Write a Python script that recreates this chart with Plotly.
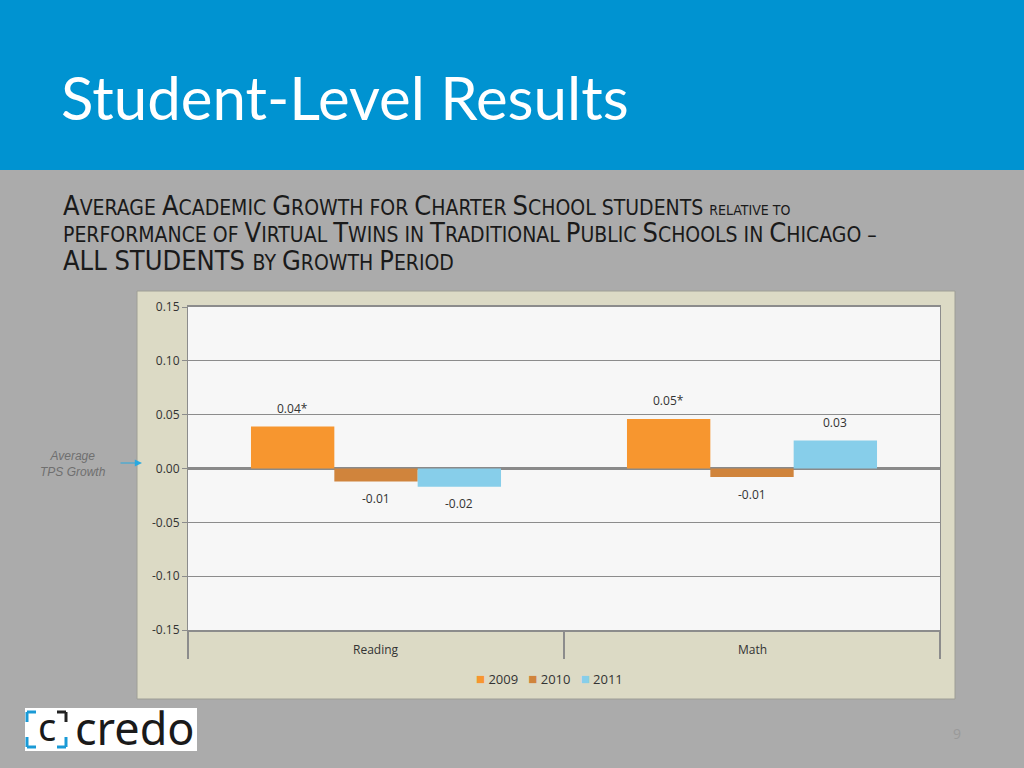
import plotly.graph_objects as go

categories = ["Reading", "Math"]
years = ["2009", "2010", "2011"]
values_2009 = [0.039, 0.046]
values_2010 = [-0.012, -0.008]
values_2011 = [-0.017, 0.026]
labels_2009 = ["0.04*", "0.05*"]
labels_2010 = ["-0.01", "-0.01"]
labels_2011 = ["-0.02", "0.03"]
colors = ["#f7962f", "#d0843c", "#87ceea"]
y_tickvals = [-0.15, -0.10, -0.05, 0.00, 0.05, 0.10, 0.15]
y_ticktext = ["-0.15", "-0.10", "-0.05", "0.00", "0.05", "0.10", "0.15"]

W, H = 1024, 768
def px(x): return x / W
def py(y): return (H - y) / H

PLOT_X0, PLOT_X1 = 188, 940
BARGAP = 0.335

fig = go.Figure()
series_vals = [values_2009, values_2010, values_2011]
series_labs = [labels_2009, labels_2010, labels_2011]
for name, vals, col in zip(years, series_vals, colors):
    fig.add_trace(go.Bar(x=categories, y=vals, name=name, marker_color=col,
                         marker_line_width=0, showlegend=False, hoverinfo="x+y+name"))

shapes = [
    dict(type="rect", xref="paper", yref="paper", x0=0, x1=1, y0=py(170), y1=1,
         fillcolor="#0093d1", line_width=0, layer="below"),
    dict(type="rect", xref="paper", yref="paper", x0=px(137), x1=px(955), y0=py(699), y1=py(291),
         fillcolor="#dcdac5", line=dict(color="#9e9e96", width=1), layer="below"),
    dict(type="rect", xref="x domain", yref="y domain", x0=0, x1=1, y0=0, y1=1,
         fillcolor="#f7f7f7", line_width=0, layer="below"),
    dict(type="rect", xref="paper", yref="paper", x0=px(25), x1=px(197), y0=py(751), y1=py(708),
         fillcolor="#ffffff", line_width=0, layer="above"),
]
def seg(x0, y0, x1, y1, c):
    return dict(type="line", xref="paper", yref="paper", x0=px(x0), y0=py(y0), x1=px(x1), y1=py(y1),
                line=dict(color=c, width=3), layer="above")
shapes += [
    seg(27, 712, 36, 712, "#1a9ad6"), seg(27, 712, 27, 722, "#1a9ad6"),
    seg(27, 737, 27, 747, "#1a9ad6"), seg(27, 747, 36, 747, "#1a9ad6"),
    seg(57, 712, 66, 712, "#222222"), seg(66, 712, 66, 722, "#222222"),
    seg(66, 737, 66, 747, "#1a9ad6"), seg(57, 747, 66, 747, "#1a9ad6"),
]

annotations = [
    dict(text="Student-Level Results", x=px(59), y=py(97), xref="paper", yref="paper",
         xanchor="left", yanchor="middle", showarrow=False,
         font=dict(family="Lato", size=60, color="#ffffff")),
]

BS, SS, TS = 27, 21, 14
def sc(big, small):
    return f"<span style='font-size:{BS}px'>{big}</span><span style='font-size:{SS}px'>{small}</span>"

line1 = (sc("A", "VERAGE ") + sc("A", "CADEMIC ") + sc("G", "ROWTH FOR ") + sc("C", "HARTER ")
         + sc("S", "CHOOL STUDENTS ") + f"<span style='font-size:{TS}px'>RELATIVE TO</span>")
line2 = (f"<span style='font-size:{SS}px'>PERFORMANCE OF </span>" + sc("V", "IRTUAL ") + sc("T", "WINS IN ")
         + sc("T", "RADITIONAL ") + sc("P", "UBLIC ") + sc("S", "CHOOLS IN ") + sc("C", "HICAGO –"))
line3 = (f"<span style='font-size:{BS}px'>ALL STUDENTS </span><span style='font-size:{SS}px'>BY </span>"
         + sc("G", "ROWTH ") + sc("P", "ERIOD"))
for ln, yy in zip([line1, line2, line3], [206, 233, 260]):
    annotations.append(dict(text=ln, x=px(61), y=py(yy), xref="paper", yref="paper",
                            xanchor="left", yanchor="middle", showarrow=False,
                            font=dict(family="DejaVu Sans Condensed, Roboto", size=SS, color="#1a1a1a")))

# data labels above/below the bars (offset inside each category group)
cat_px = (PLOT_X1 - PLOT_X0) / len(categories)
bar_px = cat_px * (1 - BARGAP) / len(years)
for i, (vals, labs) in enumerate(zip(series_vals, series_labs)):
    for c, v, l in zip(categories, vals, labs):
        annotations.append(dict(text=l, x=c, y=v, xref="x", yref="y",
                                xshift=(i - (len(years) - 1) / 2) * bar_px,
                                yshift=18 if v >= 0 else -17,
                                xanchor="center", yanchor="middle", showarrow=False,
                                font=dict(family="Open Sans", size=12, color="#333333")))

legend_text = "&nbsp;&nbsp;&nbsp;".join(
    f"<span style='color:{c};font-size:15px'>■</span>&nbsp;{y}" for y, c in zip(years, colors))
annotations += [
    dict(text=legend_text, x=px(549), y=py(678), xref="paper", yref="paper",
         xanchor="center", yanchor="middle", showarrow=False,
         font=dict(family="Open Sans", size=13, color="#333333")),
    dict(text="<i>Average<br>TPS Growth</i>", x=px(73), y=py(464), xref="paper", yref="paper",
         xanchor="center", yanchor="middle", showarrow=False,
         font=dict(family="Liberation Sans", size=12, color="#6f6f6f")),
    dict(text="", x=px(142), y=py(463), xref="paper", yref="paper", ax=-23, ay=0,
         showarrow=True, arrowhead=2, arrowsize=1.2, arrowwidth=1.2, arrowcolor="#29a9e0"),
    dict(text="credo", x=px(135), y=py(727), xref="paper", yref="paper",
         xanchor="center", yanchor="middle", showarrow=False,
         font=dict(family="Noto Sans", size=45, color="#1a1a1a")),
    dict(text="c", x=px(46.5), y=py(726), xref="paper", yref="paper",
         xanchor="center", yanchor="middle", showarrow=False,
         font=dict(family="Noto Sans", size=38, color="#1a1a1a")),
    dict(text="9", x=px(957), y=py(733), xref="paper", yref="paper",
         xanchor="center", yanchor="middle", showarrow=False,
         font=dict(family="Open Sans", size=14, color="#999999")),
]
for c in categories:
    annotations.append(dict(text=c, x=c, y=py(649), xref="x", yref="paper",
                            yanchor="middle", showarrow=False,
                            font=dict(family="Open Sans", size=12, color="#333333")))

fig.update_layout(
    width=W, height=H, margin=dict(l=0, r=0, t=0, b=0, pad=0, autoexpand=False),
    paper_bgcolor="#ababab", plot_bgcolor="#f7f7f7",
    barmode="group", bargap=BARGAP, bargroupgap=0,
    shapes=shapes, annotations=annotations, showlegend=False,
    xaxis=dict(domain=[px(PLOT_X0), px(PLOT_X1)], showticklabels=False, tickson="boundaries",
               ticks="outside", ticklen=27, tickwidth=2, tickcolor="#8c8c8c",
               showline=True, linecolor="#8c8c8c", linewidth=2, mirror=True, showgrid=False),
    yaxis=dict(domain=[py(630), py(307)], range=[-0.15, 0.15], tickvals=y_tickvals, ticktext=y_ticktext,
               ticks="outside", ticklen=5, tickcolor="#8c8c8c", showline=True, linecolor="#8c8c8c",
               linewidth=1, mirror=True, showgrid=True, gridcolor="#8c8c8c", gridwidth=1,
               zeroline=True, zerolinecolor="#8a8a8a", zerolinewidth=3,
               tickfont=dict(family="Open Sans", size=12, color="#333333")),
    font=dict(family="Open Sans"),
)
fig.write_html("out.html", config={"displayModeBar": False},
               post_script="document.body.style.margin='0';document.body.style.overflow='hidden';")
